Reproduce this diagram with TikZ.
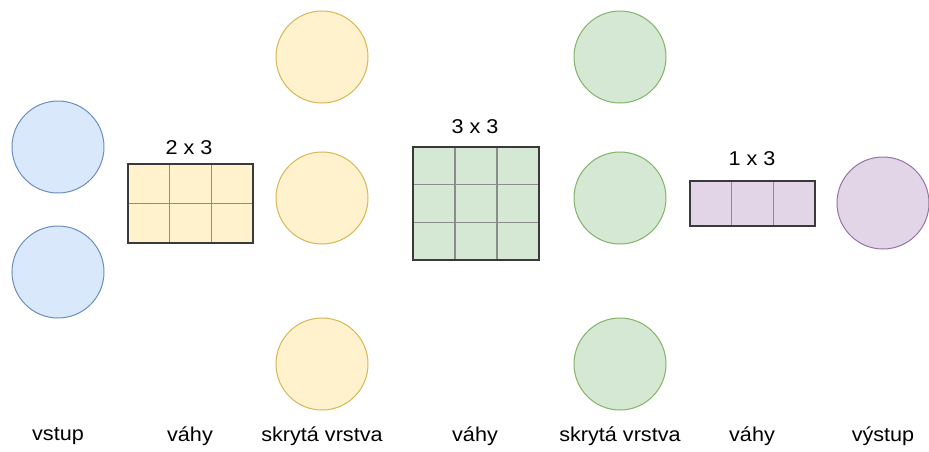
\documentclass[tikz,border=0pt]{standalone}
\usepackage{fontspec}
\setmainfont{Liberation Sans}[FakeStretch=1.08]
\definecolor{bfill}{HTML}{DAE8FC}\definecolor{bline}{HTML}{6C8EBF}
\definecolor{yfill}{HTML}{FFF2CC}\definecolor{yline}{HTML}{D6B656}
\definecolor{gfill}{HTML}{D5E8D4}\definecolor{gline}{HTML}{82B366}
\definecolor{pfill}{HTML}{E1D5E7}\definecolor{pline}{HTML}{9673A6}
\definecolor{gridc}{HTML}{8C8C8C}\definecolor{frame}{HTML}{3A3A3A}
\begin{document}
\begin{tikzpicture}[x=1pt,y=-1pt,
  neuron/.style={circle,minimum size=92pt,inner sep=0pt,line width=1pt},
  lbl/.style={font=\fontsize{20}{23}\selectfont,text=black},
  gridline/.style={draw=gridc,line width=1.2pt},
  mframe/.style={draw=frame,line width=1.6pt}]
\useasboundingbox (0,0) rectangle (929,451);
% input
\node[neuron,fill=bfill,draw=bline] (i1) at (58,147) {};
\node[neuron,fill=bfill,draw=bline] (i2) at (58,272) {};
% hidden 1
\node[neuron,fill=yfill,draw=yline] (h1) at (322,57) {};
\node[neuron,fill=yfill,draw=yline] (h2) at (322,198) {};
\node[neuron,fill=yfill,draw=yline] (h3) at (322,364) {};
% hidden 2
\node[neuron,fill=gfill,draw=gline] (g1) at (620,57) {};
\node[neuron,fill=gfill,draw=gline] (g2) at (620,198) {};
\node[neuron,fill=gfill,draw=gline] (g3) at (620,364) {};
% output
\node[neuron,fill=pfill,draw=pline] (o1) at (883,203) {};
% matrix 2x3
\fill[yfill] (128,164) rectangle (253,243);
\draw[gridline] (169.7,164) -- (169.7,243) (211.3,164) -- (211.3,243) (128,203.5) -- (253,203.5);
\draw[draw=yline,line width=2.6pt] (128,164) rectangle (253,243);
\draw[mframe] (128,164) rectangle (253,243);
\node[lbl] (m1) at (189,148) {2 x 3};
% matrix 3x3
\fill[gfill] (413,147) rectangle (539,260);
\draw[gridline] (455,147) -- (455,260) (497,147) -- (497,260) (413,184.7) -- (539,184.7) (413,222.3) -- (539,222.3);
\draw[draw=gline,line width=2.6pt] (413,147) rectangle (539,260);
\draw[mframe] (413,147) rectangle (539,260);
\node[lbl] (m2) at (475,127) {3 x 3};
% matrix 1x3
\fill[pfill] (690,181) rectangle (815,226);
\draw[gridline] (731.7,181) -- (731.7,226) (773.3,181) -- (773.3,226);
\draw[draw=pline,line width=2.6pt] (690,181) rectangle (815,226);
\draw[mframe] (690,181) rectangle (815,226);
\node[lbl] (m3) at (752,159) {1 x 3};
% bottom labels
\node[lbl] (l1) at (58,436) {vstup};
\node[lbl] (l2) at (190,436) {váhy};
\node[lbl] (l3) at (322,436) {skrytá vrstva};
\node[lbl] (l4) at (475,436) {váhy};
\node[lbl] (l5) at (620,436) {skrytá vrstva};
\node[lbl] (l6) at (752,436) {váhy};
\node[lbl] (l7) at (883,436) {výstup};
\end{tikzpicture}
\end{document}
